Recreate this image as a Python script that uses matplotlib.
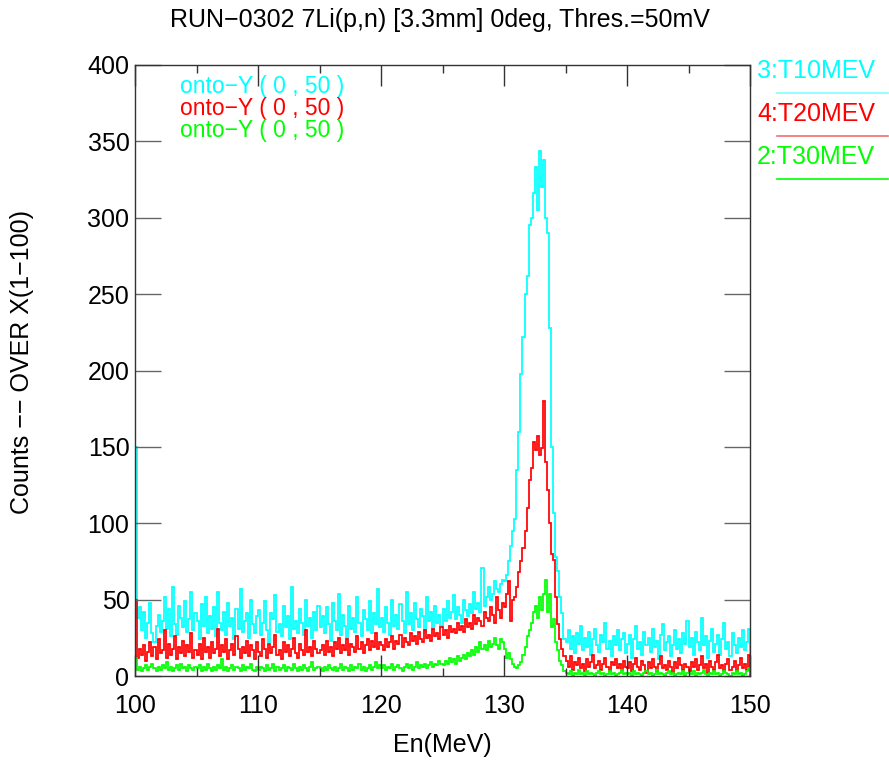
import numpy as np
import matplotlib
matplotlib.use("Agg")
import matplotlib.pyplot as plt
from matplotlib.ticker import MultipleLocator

plt.rcParams['font.family'] = ['Liberation Sans', 'DejaVu Sans']

# histogram range: 300 bins between 100 and 150 MeV
x_min, x_max, n_bins = 100, 150, 300

# counts per bin, 30 bins (5 MeV) per row
t10 = [
    150, 38, 45, 30, 42, 25, 35, 48, 28, 22, 33, 40, 29, 36, 52, 31, 44, 26, 58, 34, 27, 46, 38, 32, 49, 29, 37, 55, 30, 41,
    36, 24, 47, 33, 52, 28, 39, 31, 45, 26, 55, 35, 30, 42, 27, 48, 33, 38, 24, 44, 31, 57, 29, 36, 41, 25, 50, 34, 28, 39,
    43, 27, 35, 49, 30, 22, 41, 37, 53, 29, 34, 26, 46, 32, 39, 24, 58, 31, 36, 28, 44, 35, 27, 50, 33, 38, 25, 42, 30, 46,
    32, 39, 28, 45, 34, 23, 48, 36, 30, 54, 27, 40, 33, 25, 46, 31, 38, 29, 52, 35, 26, 43, 37, 30, 49, 28, 41, 34, 57, 32,
    38, 29, 45, 35, 27, 50, 33, 40, 31, 47, 36, 28, 55, 34, 41, 30, 48, 37, 32, 44, 39, 29, 52, 36, 42, 31, 46, 35, 40, 33,
    44, 36, 49, 38, 42, 53, 37, 45, 40, 35, 50, 43, 39, 47, 41, 55, 44, 48, 42, 71, 46, 52, 58, 50, 54, 62, 57, 55, 60, 63,
    62, 66, 75, 85, 95, 103, 135, 160, 198, 222, 250, 262, 295, 300, 316, 333, 305, 344, 320, 338, 300, 290, 228, 150, 107, 78, 69, 52, 41, 24,
    22, 30, 18, 26, 15, 28, 21, 33, 17, 25, 19, 29, 14, 24, 31, 20, 16, 27, 22, 35, 18, 23, 13, 26, 20, 30, 17, 24, 28, 15,
    21, 27, 12, 24, 33, 18, 22, 14, 29, 20, 25, 16, 31, 19, 23, 11, 27, 34, 17, 22, 26, 13, 20, 30, 18, 24, 15, 28, 21, 36,
    19, 25, 14, 29, 22, 17, 38, 20, 26, 12, 23, 31, 16, 21, 27, 14, 24, 35, 18, 22, 13, 28, 20, 15, 25, 19, 30, 17, 22, 31,
]
t20 = [
    50, 12, 18, 14, 20, 10, 16, 22, 13, 19, 11, 24, 15, 17, 30, 12, 21, 14, 18, 26, 11, 19, 15, 23, 13, 20, 16, 28, 12, 17,
    14, 21, 11, 25, 16, 19, 12, 22, 15, 18, 31, 13, 20, 16, 24, 11, 17, 21, 14, 26, 18, 12, 19, 15, 23, 13, 20, 17, 11, 22,
    16, 13, 24, 18, 12, 21, 15, 19, 27, 14, 17, 11, 22, 16, 20, 13, 18, 25, 15, 12, 21, 17, 14, 30, 16, 19, 13, 23, 18, 15,
    17, 20, 14, 23, 16, 19, 13, 22, 18, 25, 15, 20, 17, 24, 14, 21, 19, 16, 26, 18, 22, 15, 20, 24, 17, 23, 19, 28, 18, 22,
    20, 17, 24, 19, 22, 26, 18, 23, 21, 27, 19, 25, 22, 20, 28, 23, 26, 21, 29, 24, 22, 30, 25, 27, 23, 31, 26, 28, 24, 32,
    27, 30, 25, 33, 29, 31, 28, 35, 30, 33, 29, 37, 32, 35, 31, 40, 34, 38, 36, 33, 42, 38, 36, 45, 40, 35, 52, 43, 38, 48,
    45, 54, 62, 36, 50, 52, 58, 68, 75, 84, 95, 110, 128, 136, 153, 148, 157, 145, 149, 180, 140, 122, 100, 80, 76, 52, 34, 24, 18, 13,
    10, 6, 13, 4, 9, 7, 12, 5, 8, 3, 11, 6, 9, 14, 5, 7, 10, 4, 8, 12, 6, 3, 9, 7, 11, 5, 8, 4, 10, 6,
    5, 9, 3, 8, 12, 6, 4, 10, 7, 2, 9, 5, 11, 6, 3, 8, 13, 5, 7, 4, 10, 6, 2, 9, 5, 12, 7, 4, 8, 6,
    3, 9, 6, 11, 4, 7, 13, 5, 8, 2, 10, 6, 4, 9, 14, 5, 7, 3, 8, 11, 4, 6, 10, 3, 7, 12, 5, 8, 4, 14,
]
t30 = [
    12, 4, 6, 3, 5, 7, 4, 6, 8, 5, 3, 6, 4, 7, 5, 9, 4, 6, 3, 5, 7, 4, 8, 5, 6, 3, 7, 5, 4, 6,
    5, 7, 3, 6, 4, 8, 5, 3, 6, 4, 7, 5, 11, 4, 6, 3, 5, 7, 4, 6, 5, 3, 7, 4, 6, 5, 8, 4, 3, 6,
    4, 6, 5, 3, 7, 4, 5, 8, 3, 6, 4, 5, 7, 3, 6, 5, 4, 8, 5, 3, 6, 4, 7, 5, 3, 6, 9, 4, 5, 6,
    5, 3, 6, 4, 7, 5, 4, 6, 3, 5, 8, 4, 6, 5, 3, 7, 4, 6, 5, 8, 4, 6, 3, 5, 7, 4, 6, 9, 5, 7,
    5, 7, 4, 6, 5, 8, 4, 6, 7, 5, 3, 6, 8, 5, 7, 4, 6, 9, 5, 7, 6, 8, 5, 7, 9, 6, 8, 7, 10, 8,
    7, 10, 8, 12, 9, 11, 8, 13, 10, 12, 14, 11, 15, 13, 17, 14, 19, 16, 22, 18, 20, 17, 23, 19, 21, 25, 20, 18, 24, 22,
    18, 12, 15, 11, 8, 6, 5, 7, 9, 14, 19, 26, 30, 35, 42, 46, 38, 52, 43, 54, 63, 42, 54, 32, 37, 22, 17, 10, 7, 3,
    2, 1, 3, 0, 2, 1, 4, 1, 2, 0, 3, 1, 2, 1, 0, 2, 3, 1, 2, 0, 1, 3, 1, 2, 0, 1, 2, 4, 1, 2,
    1, 2, 0, 3, 1, 2, 1, 0, 2, 3, 1, 2, 0, 1, 4, 1, 2, 1, 0, 2, 3, 1, 2, 0, 1, 2, 1, 3, 0, 2,
    2, 1, 3, 0, 2, 1, 2, 4, 1, 0, 2, 1, 3, 1, 2, 0, 1, 3, 2, 1, 0, 2, 1, 3, 1, 2, 0, 1, 3, 5,
]

hist_names = ['3:T10MEV', '4:T20MEV', '2:T30MEV']
hist_colors = ['#00ffff', '#ff0000', '#00ff00']
key_line_colors = ['#80ffff', '#f07070', '#00ff00']
onto_label = 'onto\u2212Y ( 0 , 50 )'

W, H = 889, 763
fig = plt.figure(figsize=(W / 100, H / 100), dpi=100)
ax = fig.add_axes([135 / W, 1 - 676 / H, 615 / W, 611 / H])

edges = np.linspace(x_min, x_max, n_bins + 1)
for vals, col in zip([t10, t20, t30], hist_colors):
    ax.stairs(vals, edges, baseline=0, color=col, linewidth=1.25)

ax.set_xlim(x_min, x_max)
ax.set_ylim(0, 400)
ax.xaxis.set_major_locator(MultipleLocator(10))
ax.xaxis.set_minor_locator(MultipleLocator(5))
ax.yaxis.set_major_locator(MultipleLocator(50))

ax.tick_params(axis='x', which='major', direction='in', length=15, width=1, color='#333333',
               top=True, labelsize=18, pad=13)
ax.tick_params(axis='x', which='minor', direction='in', length=6, width=1, color='#333333', top=True)
ax.tick_params(axis='y', which='major', direction='in', length=19, width=1, color='#666666',
               right=True, labelsize=18, pad=4)
for sp in ax.spines.values():
    sp.set_linewidth(1)
    sp.set_color('#333333')

fig.text(440 / W, 1 - 20 / H, 'RUN\u22120302 7Li(p,n) [3.3mm] 0deg, Thres.=50mV',
         ha='center', va='center', fontsize=18)
fig.text(442 / W, 1 - 745 / H, 'En(MeV)', ha='center', va='center', fontsize=18)
fig.text(22 / W, 1 - 362 / H, 'Counts \u2212\u2212 OVER X(1\u2212100)', ha='center', va='center',
         rotation=90, fontsize=18)

# per-histogram captions inside the frame
for i, col in enumerate(hist_colors):
    fig.text(180 / W, 1 - (87 + 22 * i) / H, onto_label, color=col, ha='left', va='center', fontsize=16.5)

# histogram keys on the right
for i, (name, col, lcol) in enumerate(zip(hist_names, hist_colors, key_line_colors)):
    yt = 71 + 43 * i
    fig.text(757 / W, 1 - yt / H, name, color=col, ha='left', va='center', fontsize=18)
    fig.add_artist(plt.Line2D([777 / W, 888 / W], [1 - (yt + 22) / H] * 2, color=lcol, linewidth=1.2))

fig.savefig('out.png', dpi=100)
